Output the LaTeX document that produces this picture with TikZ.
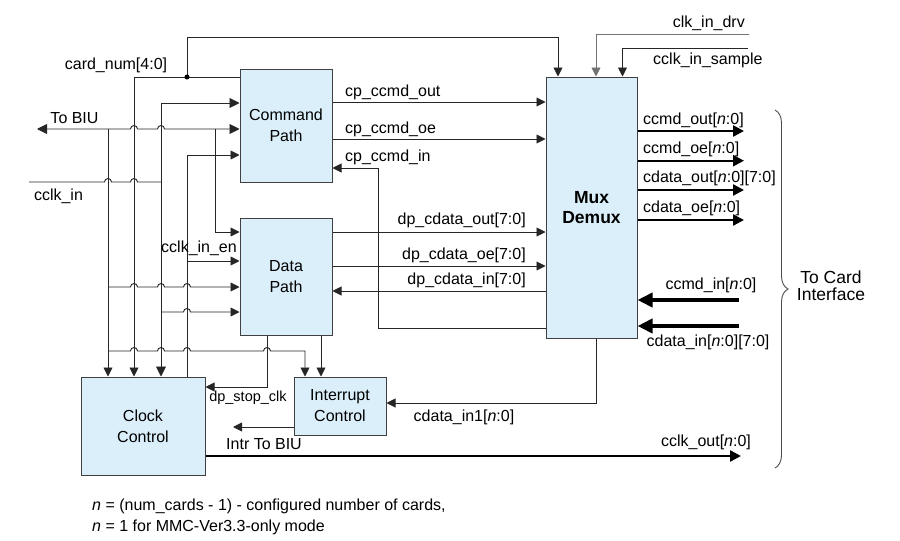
\documentclass[tikz,border=0pt]{standalone}
\usepackage{fontspec}
\setmainfont{Liberation Sans}
\usepackage{xcolor}
\usetikzlibrary{arrows.meta,decorations.pathreplacing}
\definecolor{boxblue}{RGB}{219,239,251}
\newcommand{\hop}[2]{-- (#1-3.5,#2) arc[start angle=180,end angle=0,radius=3.5pt]}

\begin{document}
\begin{tikzpicture}[x=1pt,y=-1pt,
    box/.style={draw=black!75, line width=1pt, fill=boxblue, align=center, inner sep=0pt},
    wire/.style={line width=0.9pt, draw=black!85},
    arr/.style={wire, -{Triangle[length=9pt,width=9pt]}},
    rarr/.style={wire, {Triangle[length=9pt,width=9pt]}-},
    biarr/.style={wire, {Triangle[length=10pt,width=10pt]}-{Triangle[length=10pt,width=10pt]}},
    bus/.style={line width=2.4pt, -{Triangle[length=11pt,width=11pt]}},
    inbus/.style={line width=4pt, -{Triangle[length=15pt,width=14pt]}},
    lbl/.style={inner sep=0pt}]
    \tikzstyle{every node}=[font=\fontsize{16}{21}\selectfont]
    \useasboundingbox (0,0) rectangle (900,541);

    \node[box, minimum width=92pt, minimum height=113pt] (cmd) at (286,125.5) {Command\\Path};
    \node[box, minimum width=92pt, minimum height=117pt] (dp) at (286,276.5) {Data\\Path};
    \node[box, minimum width=91pt, minimum height=261pt, font=\fontsize{17.5}{20}\selectfont\bfseries] (mux) at (591.5,207.5) {Mux\\Demux};
    \node[box, minimum width=124pt, minimum height=98pt] (clk) at (143,426) {Clock\\Control};
    \node[box, minimum width=92pt, minimum height=58pt] (intr) at (340,406) {Interrupt\\Control};

    \coordinate (cnj) at (187,77);
    \coordinate (biu) at (37,129);
    \coordinate (cin) at (29,182);
    \coordinate (ibiu) at (233,427);
    \coordinate (drv) at (749,34);
    \coordinate (smp) at (748,48);
    \coordinate (cout) at (741,456);
    \coordinate (o1) at (744,131);
    \coordinate (o2) at (744,160.7);
    \coordinate (o3) at (744,190);
    \coordinate (o4) at (744,220);
    \coordinate (i1) at (739,300);
    \coordinate (i2) at (739,326);

    \draw[arr] (cmd.west |- 0,77) -- (134,77) -- (clk.north -| 134,0);
    \draw[arr] (cnj) -- (187,37) -| ([xshift=-33.5pt]mux.north);
    \fill (cnj) circle (2.5pt);

    \draw[biarr] (biu) \hop{134}{129} \hop{161}{129} -- (cmd.west |- biu);
    \draw[arr] (108,129) -- (clk.north -| 108,0);
    \draw[arr] (215,129) |- (dp.west |- 0,232);
    \draw[biarr] (cmd.west |- 0,103) -| (clk.north -| 161,0);
    \draw[wire] (cin) \hop{108}{182} \hop{134}{182} -- (161,182);
    \draw[rarr] (cmd.west |- 0,155) -| (clk.north -| 187,0);
    \draw[arr] (187,261) -- (dp.west |- 0,261);
    \draw[arr] (108,287) \hop{134}{287} \hop{161}{287} \hop{187}{287} -- (dp.west |- 0,287);
    \draw[arr] (161,312) \hop{187}{312} -- (dp.west |- 0,312);
    \draw[arr] (108,351) \hop{134}{351} \hop{161}{351} \hop{187}{351} \hop{267}{351} -| ([xshift=-35pt]intr.north);
    \draw[arr] ([xshift=-19pt]dp.south) |- (clk.east |- 0,387);
    \draw[arr] ([xshift=35pt]dp.south) -- ([xshift=-19pt]intr.north);
    \draw[arr] (intr.west |- ibiu) -- (ibiu);
    \draw[bus] (clk.east |- cout) -- (cout);
    \draw[arr] ([xshift=4.5pt]mux.south) |- (intr.east |- 0,403);

    \draw[arr] (cmd.east |- 0,102) -- (mux.west |- 0,102);
    \draw[arr] (cmd.east |- 0,139) -- (mux.west |- 0,139);
    \draw[arr] (mux.west |- 0,328) -- (378,328) |- (cmd.east |- 0,168);
    \draw[arr] (dp.east |- 0,232) -- (mux.west |- 0,232);
    \draw[arr] (dp.east |- 0,266) -- (mux.west |- 0,266);
    \draw[arr] (mux.west |- 0,291) -- (dp.east |- 0,291);

    \draw[arr, draw=black!55] (drv) -| ([xshift=4.5pt]mux.north);
    \draw[arr] (smp) -| ([xshift=31pt]mux.north);
    \foreach \o in {o1,o2,o3,o4} \draw[bus] (mux.east |- \o) -- (\o);
    \draw[inbus] (i1) -- (mux.east |- i1);
    \draw[inbus] (i2) -- (mux.east |- i2);
    \draw[wire, draw=black!70, decorate, decoration={brace, amplitude=13pt}] (775,110) -- (775,468);

    \node[lbl, anchor=base] (lcard) at (116,69) {card\_num[4:0]};
    \node[lbl, anchor=base] (lbiu) at (74.5,123) {To BIU};
    \node[lbl, anchor=base] (lcin) at (58.5,200) {cclk\_in};
    \node[lbl, anchor=base] (len) at (199,252.5) {cclk\_in\_en};
    \node[lbl, anchor=base, font=\fontsize{14.5}{17}\selectfont] (lstop) at (248,401.5) {dp\_stop\_clk};
    \node[lbl, anchor=base] (libiu) at (264,449) {Intr To BIU};
    \node[lbl, anchor=base west] (lcpo) at (345,96.5) {cp\_ccmd\_out};
    \node[lbl, anchor=base west] (lcpe) at (345,133.3) {cp\_ccmd\_oe};
    \node[lbl, anchor=base west] (lcpi) at (345,161.7) {cp\_ccmd\_in};
    \node[lbl, anchor=base east] (ldpo) at (526,224) {dp\_cdata\_out[7:0]};
    \node[lbl, anchor=base east] (ldpe) at (526,259) {dp\_cdata\_oe[7:0]};
    \node[lbl, anchor=base east] (ldpi) at (526,284.3) {dp\_cdata\_in[7:0]};
    \node[lbl, anchor=base] (lcd1) at (464,421.7) {cdata\_in1[\textit{n}:0]};
    \node[lbl, anchor=base east] (ldrv) at (745,27.7) {clk\_in\_drv};
    \node[lbl, anchor=base west] (lsmp) at (653,64.3) {cclk\_in\_sample};
    \node[lbl, anchor=base west] (lo1) at (643,124) {ccmd\_out[\textit{n}:0]};
    \node[lbl, anchor=base west] (lo2) at (643,153.3) {ccmd\_oe[\textit{n}:0]};
    \node[lbl, anchor=base west] (lo3) at (643,182.7) {cdata\_out[\textit{n}:0][7:0]};
    \node[lbl, anchor=base west] (lo4) at (643,212) {cdata\_oe[\textit{n}:0]};
    \node[lbl, anchor=base] (li1) at (711,289) {ccmd\_in[\textit{n}:0]};
    \node[lbl, anchor=base] (li2) at (708,346.7) {cdata\_in[\textit{n}:0][7:0]};
    \node[lbl, anchor=base] (lcout) at (706,446.7) {cclk\_out[\textit{n}:0]};
    \node[lbl, align=center, font=\fontsize{17.5}{17}\selectfont] (lcardif) at (831,286) {To Card\\Interface};
    \node[lbl, anchor=base west] (note1) at (92,510) {\textit{n} = (num\_cards - 1) - configured number of cards,};
    \node[lbl, anchor=base west] (note2) at (92,531) {\textit{n} = 1 for MMC-Ver3.3-only mode};
\end{tikzpicture}
\end{document}
